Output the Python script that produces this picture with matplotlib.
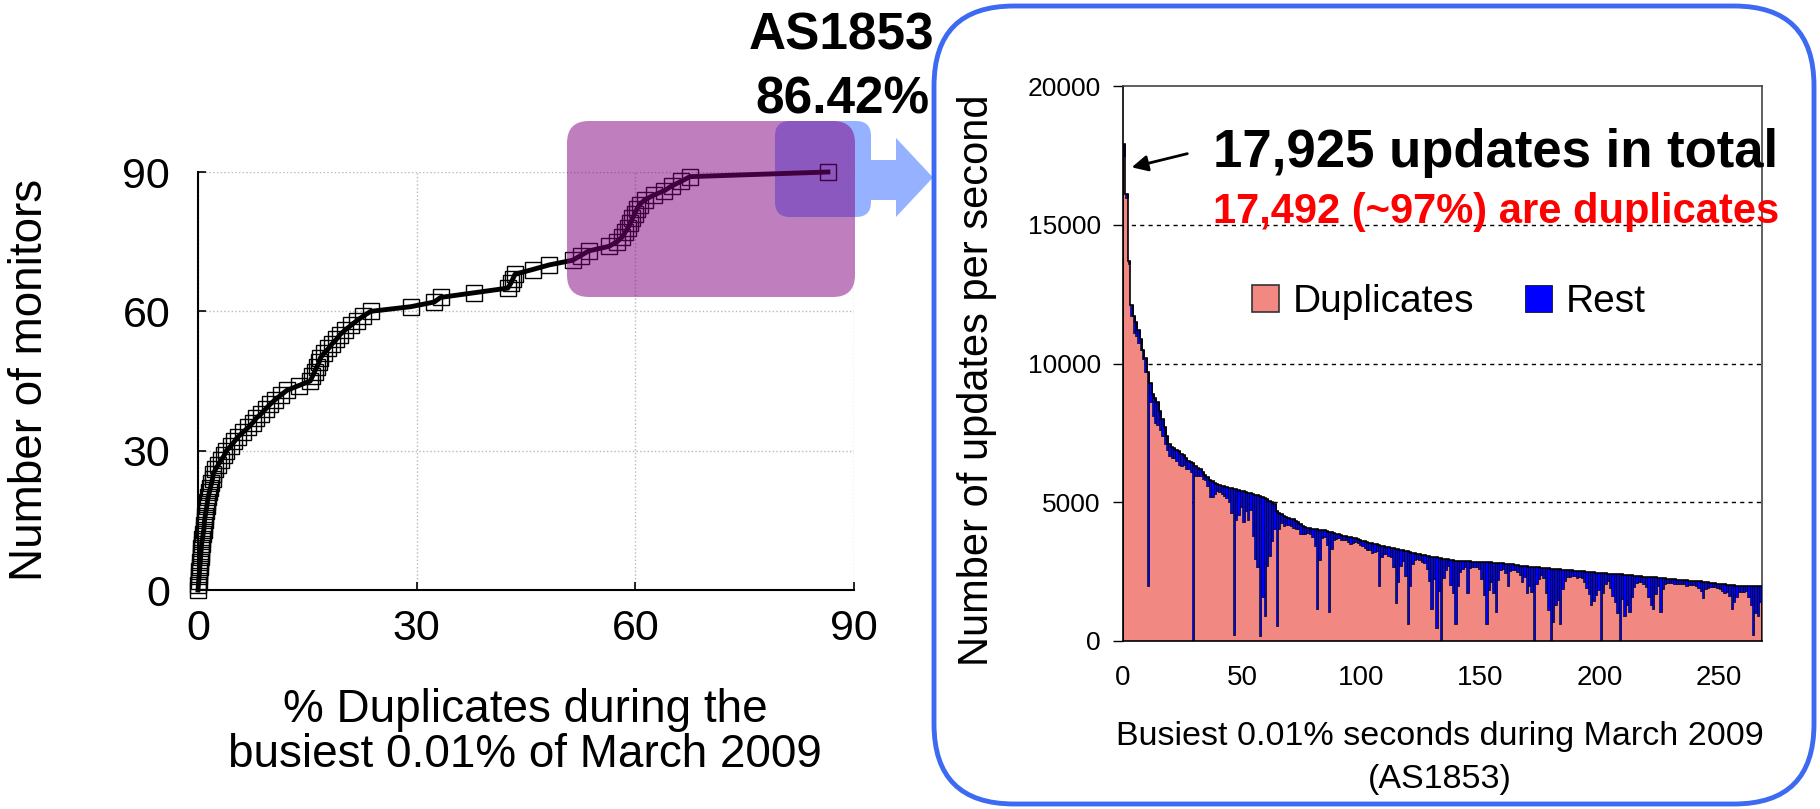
import numpy as np
import matplotlib
matplotlib.use("Agg")
import matplotlib.pyplot as plt
from matplotlib.patches import FancyBboxPatch, Polygon

plt.rcParams['font.family'] = ['Liberation Sans', 'DejaVu Sans']

# ---- left panel: % duplicates per monitor (sorted), monitors 0..90 ----
dup_pct = [0.0, 0.05, 0.1, 0.15, 0.2, 0.25, 0.3, 0.35, 0.4, 0.45,
           0.5, 0.6, 0.7, 0.8, 0.85, 0.9, 1.0, 1.1, 1.2, 1.3,
           1.4, 1.55, 1.7, 1.85, 2.0, 2.1, 2.4, 2.8, 3.2, 3.6,
           3.9, 4.5, 5.0, 5.5, 6.2, 6.9, 7.5, 8.0, 8.7, 9.3,
           9.9, 10.6, 11.4, 12.2, 13.8, 15.4, 15.7, 16.0, 16.3, 16.6,
           16.8, 17.3, 17.9, 18.4, 19.0, 19.5, 20.2, 21.0, 21.8, 22.7,
           23.7, 29.2, 32.4, 33.3, 37.9, 42.5, 42.9, 43.2, 43.5, 45.9,
           48.2, 51.4, 52.5, 53.6, 56.4, 57.5, 58.2, 58.6, 59.0, 59.3,
           59.6, 59.9, 60.2, 60.6, 61.3, 62.5, 64.0, 65.0, 66.3, 67.5,
           86.42]
monitors = list(range(len(dup_pct)))

# ---- right panel: updates per second, busiest 268 seconds (AS1853) ----
total = [17925, 16100, 13700, 12100, 11700, 11500, 11200, 10900, 10500, 10200,
         9700, 9300, 8900, 8750, 8600, 8300, 8000, 7700, 7400, 7100,
         6980, 6950, 6900, 6850, 6750, 6700, 6600, 6500, 6450, 6400,
         6300, 6250, 6200, 6100, 6000, 5900, 5800, 5750, 5700, 5650,
         5620, 5600, 5570, 5550, 5520, 5500, 5480, 5460, 5440, 5420,
         5400, 5380, 5350, 5320, 5300, 5270, 5250, 5230, 5200, 5150,
         5100, 5050, 5000, 4950, 4700, 4620, 4560, 4500, 4470, 4440,
         4410, 4380, 4330, 4280, 4200, 4140, 4100, 4080, 4060, 4040,
         4030, 4020, 4010, 4000, 3990, 3960, 3940, 3920, 3900, 3870,
         3850, 3830, 3800, 3780, 3760, 3740, 3720, 3700, 3670, 3650,
         3620, 3600, 3570, 3540, 3520, 3500, 3480, 3450, 3440, 3420,
         3400, 3380, 3360, 3350, 3330, 3310, 3290, 3270, 3250, 3230,
         3200, 3180, 3170, 3150, 3130, 3110, 3100, 3080, 3060, 3040,
         3030, 3010, 3000, 2980, 2970, 2960, 2950, 2930, 2920, 2900,
         2900, 2890, 2880, 2880, 2870, 2870, 2860, 2860, 2850, 2850,
         2850, 2840, 2840, 2830, 2830, 2820, 2820, 2810, 2800, 2800,
         2790, 2780, 2770, 2760, 2750, 2740, 2720, 2710, 2700, 2690,
         2680, 2670, 2660, 2650, 2650, 2640, 2630, 2620, 2620, 2610,
         2600, 2590, 2580, 2580, 2570, 2560, 2560, 2550, 2550, 2540,
         2530, 2520, 2520, 2510, 2500, 2490, 2480, 2470, 2460, 2450,
         2450, 2440, 2440, 2430, 2420, 2420, 2410, 2410, 2400, 2400,
         2390, 2390, 2380, 2370, 2360, 2350, 2340, 2330, 2320, 2310,
         2300, 2300, 2290, 2290, 2280, 2280, 2270, 2260, 2250, 2230,
         2230, 2220, 2210, 2210, 2200, 2200, 2190, 2180, 2180, 2170,
         2170, 2160, 2150, 2140, 2130, 2120, 2100, 2090, 2080, 2070,
         2060, 2050, 2040, 2030, 2030, 2020, 2010, 2000, 2000, 2000,
         2000, 2000, 2000, 2000, 2000, 2000, 2000, 2000]
rest = [433, 150, 100, 400, 600, 500, 450, 400, 350, 500,
        7700, 700, 800, 900, 800, 700, 600, 600, 500, 450,
        400, 350, 400, 500, 450, 350, 400, 300, 350, 6350,
        350, 300, 250, 250, 200, 300, 600, 550, 400, 250,
        250, 300, 350, 400, 500, 900, 5280, 1100, 900, 600,
        1100, 700, 1000, 600, 1500, 2300, 2600, 5050, 3600, 4250,
        2400, 2000, 1400, 900, 4150, 600, 300, 350, 300, 250,
        250, 300, 300, 250, 350, 300, 250, 200, 200, 300,
        600, 2850, 1100, 300, 250, 500, 2910, 600, 250, 200,
        150, 200, 150, 150, 200, 250, 200, 150, 150, 200,
        200, 250, 300, 250, 350, 300, 250, 1450, 400, 300,
        250, 300, 350, 700, 1950, 1200, 600, 400, 900, 2610,
        1200, 400, 250, 200, 200, 250, 300, 500, 900, 1870,
        800, 2530, 1200, 2960, 700, 400, 250, 900, 1200, 2280,
        900, 400, 300, 200, 1150, 250, 200, 200, 200, 250,
        600, 1200, 2220, 1000, 700, 1100, 1790, 600, 250, 200,
        350, 780, 250, 200, 200, 250, 350, 600, 400, 970,
        700, 900, 2640, 600, 400, 250, 350, 900, 1500, 2590,
        1900, 1300, 1100, 1960, 700, 400, 250, 250, 200, 200,
        250, 200, 250, 400, 600, 800, 1200, 1020, 800, 600,
        2430, 700, 400, 250, 500, 800, 1000, 1400, 2380, 900,
        1490, 1100, 1350, 800, 400, 250, 200, 200, 250, 350,
        700, 1000, 1120, 600, 300, 1250, 400, 200, 150, 150,
        150, 150, 150, 150, 150, 150, 200, 150, 150, 150,
        200, 250, 350, 580, 250, 200, 150, 150, 150, 150,
        200, 250, 300, 250, 400, 860, 600, 400, 250, 250,
        250, 200, 400, 700, 1800, 1000, 1100, 600]

W, H = 1820, 809
fig = plt.figure(figsize=(W / 100, H / 100), dpi=100)


def box_in(x0, y0, x1, y1):
    # pixel box (top-left origin) -> inches (x, y, w, h)
    return x0 / 100, (H - y1) / 100, (x1 - x0) / 100, (y1 - y0) / 100


# ---------------- left: CDF ----------------
ax1 = fig.add_axes([198 / W, 1 - 590 / H, 656 / W, 418 / H])
ax1.set_facecolor('none')
ax1.plot(dup_pct, monitors, '-', color='black', lw=3.5, marker='s', ms=11,
         mfc='none', mec='black', mew=1.0, clip_on=False, zorder=3)
ax1.set_xlim(0, 90)
ax1.set_ylim(0, 90)
ax1.set_xticks([0, 30, 60, 90])
ax1.set_yticks([0, 30, 60, 90])
for s in ['top', 'right']:
    ax1.spines[s].set_visible(False)
for s in ['left', 'bottom']:
    ax1.spines[s].set_linewidth(1.5)
ax1.grid(True, ls=':', color='#b8b8b8', lw=1)
ax1.tick_params(direction='in', length=6, width=1.2, labelsize=31)
ax1.tick_params(axis='x', pad=14)
ax1.tick_params(axis='y', pad=20)

fig.text(30 / W, 1 - 380 / H, 'Number of monitors', rotation=90,
         ha='center', va='center', fontsize=33)
fig.text(525 / W, 1 - 722 / H, '% Duplicates during the',
         ha='center', va='baseline', fontsize=33)
fig.text(525 / W, 1 - 767 / H, 'busiest 0.01% of March 2009',
         ha='center', va='baseline', fontsize=33)

# ---------------- right: stacked bars ----------------
ax2 = fig.add_axes([1123 / W, 1 - 641 / H, 638.6 / W, 555 / H])
xs = np.arange(len(total))
dup = np.array(total) - np.array(rest)
b1 = ax2.bar(xs, dup, width=1.0, align='edge', color='#F28882', lw=0, zorder=2)
b2 = ax2.bar(xs, rest, bottom=dup, width=1.0, align='edge', color='#0000FF',
             edgecolor='black', lw=0.5, zorder=2)
ax2.stairs(total, np.arange(len(total) + 1), color='black', lw=1.2, zorder=3)
for yv in (5000, 10000, 15000):
    ax2.axhline(yv, color='black', ls=(0, (3, 3)), lw=1, zorder=1)
ax2.set_xlim(0, len(total))
ax2.set_ylim(0, 20000)
ax2.set_xticks([0, 50, 100, 150, 200, 250])
ax2.set_yticks([0, 5000, 10000, 15000, 20000])
for s in ax2.spines.values():
    s.set_linewidth(1.2)
ax2.spines['top'].set_color('#444444')
ax2.spines['right'].set_color('#444444')
ax2.tick_params(axis='y', direction='out', length=7, width=1, labelsize=19, pad=9)
ax2.tick_params(axis='x', length=0, labelsize=20, pad=17)

fig.text(977 / W, 1 - 380 / H, 'Number of updates per second', rotation=90,
         ha='center', va='center', fontsize=30)
fig.text(1440 / W, 1 - 745 / H, 'Busiest 0.01% seconds during March 2009',
         ha='center', va='baseline', fontsize=24.5)
fig.text(1440 / W, 1 - 788 / H, '(AS1853)',
         ha='center', va='baseline', fontsize=24.5)

leg = ax2.legend([b1, b2], ['Duplicates', 'Rest'], ncol=2, loc='center left',
                 bbox_to_anchor=(1252 / W, 1 - 302 / H), bbox_transform=fig.transFigure,
                 frameon=False, fontsize=28, handlelength=0.7, handleheight=0.7,
                 handletextpad=0.35, columnspacing=1.3, borderpad=0, borderaxespad=0)
leg.legend_handles[0].set_edgecolor('#333333')
leg.legend_handles[0].set_linewidth(1.2)

fig.text(1213 / W, 1 - 167 / H, '17,925 updates in total', fontsize=38,
         weight='bold', ha='left', va='baseline')
fig.text(1213 / W, 1 - 223 / H, '17,492 (~97%) are duplicates', fontsize=30,
         weight='bold', color='red', ha='left', va='baseline')
ax2.annotate('', xy=(1129 / W, 1 - 168 / H), xycoords='figure fraction',
             xytext=(1190 / W, 1 - 153 / H), textcoords='figure fraction',
             arrowprops=dict(arrowstyle='-|>', color='black', lw=2, mutation_scale=24))

# ---------------- overlays ----------------
fig.text(842 / W, 1 - 50 / H, 'AS1853', ha='center', va='baseline',
         fontsize=37, weight='bold')
fig.text(842 / W, 1 - 113 / H, '86.42%', ha='center', va='baseline',
         fontsize=37, weight='bold')

light_blue = '#96B1FF'
bb = box_in(775, 121, 871, 217)
fig.add_artist(FancyBboxPatch(bb[:2], bb[2], bb[3],
                              boxstyle='round,pad=0,rounding_size=0.15',
                              transform=fig.dpi_scale_trans, fc=light_blue, ec='none', zorder=-1))
head = [(865, 160), (896, 160), (896, 138), (933, 177.5), (896, 217), (896, 200), (865, 200)]
fig.add_artist(Polygon([(px / 100, (H - py) / 100) for px, py in head], closed=True,
                       transform=fig.dpi_scale_trans, fc=light_blue, ec='none', zorder=-1))

pb = box_in(567, 121, 855, 297)
fig.add_artist(FancyBboxPatch(pb[:2], pb[2], pb[3], boxstyle='round,pad=0,rounding_size=0.22',
                              transform=fig.dpi_scale_trans, fc='purple', alpha=0.5,
                              ec='none', zorder=5))

fb = box_in(934, 6, 1814, 804)
fig.add_artist(FancyBboxPatch(fb[:2], fb[2], fb[3], boxstyle='round,pad=0,rounding_size=0.8',
                              transform=fig.dpi_scale_trans, fill=False, ec='#3D6AF2',
                              lw=3.5, zorder=10))

fig.savefig('out.png', dpi=100)
